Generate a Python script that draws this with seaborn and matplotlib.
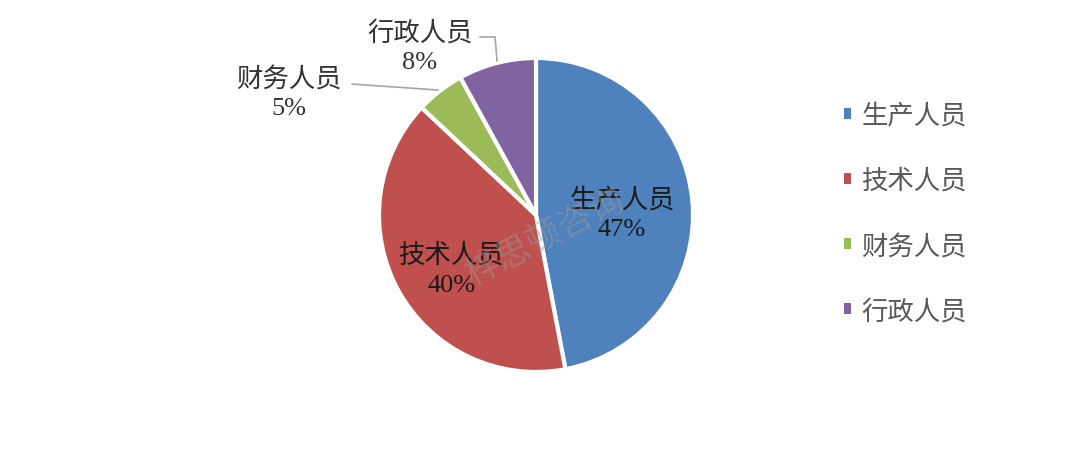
import matplotlib
matplotlib.use("Agg")
import matplotlib.pyplot as plt
from matplotlib.patches import Patch
import seaborn as sns

# Data
categories = ["生产人员", "技术人员", "财务人员", "行政人员"]
shares = [47, 40, 5, 8]
colors = ["#4F81BD", "#C0504D", "#9BBB59", "#8064A2"]

sns.set_theme(style="white")
plt.rcParams["font.family"] = ["Liberation Serif", "Noto Sans CJK SC", "DejaVu Sans"]

fig = plt.figure(figsize=(10.8, 4.52), dpi=100)
# pie centre at roughly (536, 216) px from top-left, radius ~157 px
r_px = 157
half = 200
ax = fig.add_axes([(536 - half) / 1080, (452 - 216 - half) / 452, 2 * half / 1080, 2 * half / 452])
lim = half / r_px

wedges, _ = ax.pie(
    shares,
    colors=colors,
    startangle=90,
    counterclock=False,
    radius=1,
    wedgeprops=dict(edgecolor="white", linewidth=3),
)
ax.set_xlim(-lim, lim)
ax.set_ylim(-lim, lim)
ax.set_aspect("equal")
ax.axis("off")

fs = 19
ls = 1.4
# inside labels
ax.text(0.548, 0.013, f"{categories[0]}\n{shares[0]}%", ha="center", va="center",
        fontsize=fs, color="#1a1a1a", linespacing=ls)
ax.text(-0.541, -0.344, f"{categories[1]}\n{shares[1]}%", ha="center", va="center",
        fontsize=fs, color="#1a1a1a", linespacing=ls)
# outside labels with leader lines
ax.text(-1.573, 0.783, f"{categories[2]}\n{shares[2]}%", ha="center", va="center",
        fontsize=fs, color="#333333", linespacing=ls)
ax.plot([-1.172, -0.624], [0.834, 0.796], color="#A6A6A6", lw=1.2, clip_on=False)
ax.text(-0.739, 1.076, f"{categories[3]}\n{shares[3]}%", ha="center", va="center",
        fontsize=fs, color="#333333", linespacing=ls)
ax.plot([-0.357, -0.261, -0.248], [1.134, 1.134, 0.98], color="#A6A6A6", lw=1.2, clip_on=False)

# watermark
ax.text(0.06, -0.134, "梓思顿咨询", ha="center", va="center", fontsize=25,
        rotation=27, color="#9a9a9a", alpha=0.45,
        family=["Noto Sans CJK SC", "DejaVu Sans"])

handles = [Patch(facecolor=c, edgecolor="none") for c in colors]
leg = fig.legend(
    handles, categories,
    loc="center left", bbox_to_anchor=(820 / 1080, 1 - 214 / 452),
    frameon=False, fontsize=fs, labelcolor="#595959",
    handlelength=0.27, handleheight=0.27, handletextpad=0.4,
    labelspacing=1.45,
)
for t in leg.get_texts():
    t.set_family(["Noto Sans CJK SC", "DejaVu Sans"])

fig.savefig("out.png", dpi=100, facecolor="white")
